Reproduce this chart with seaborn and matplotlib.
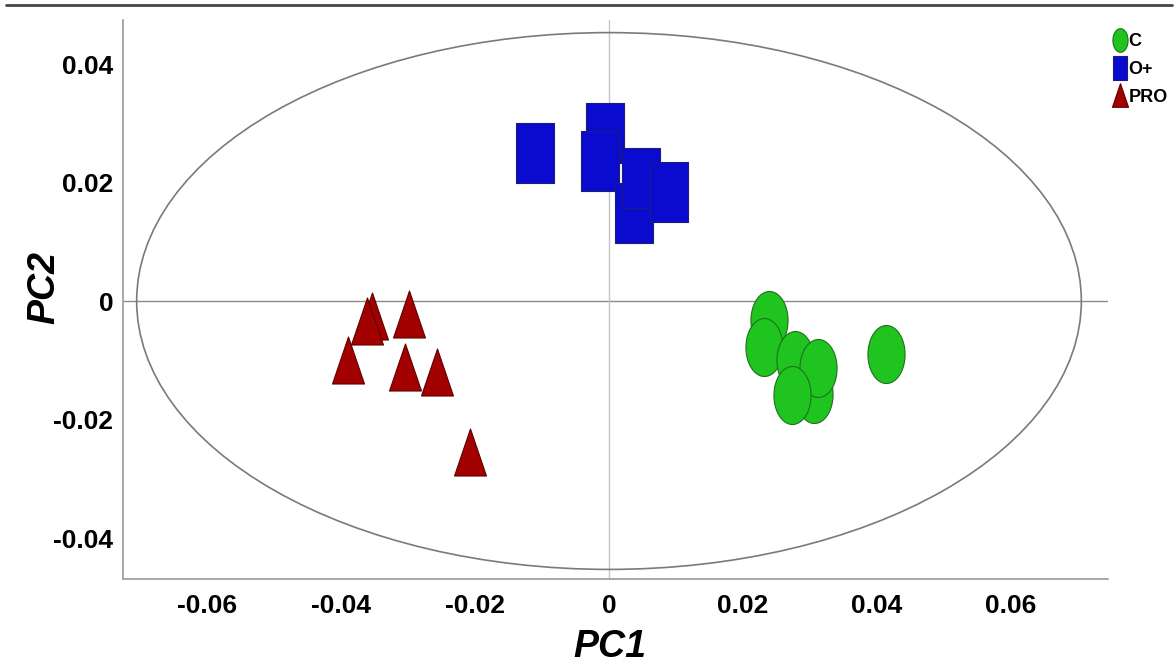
import numpy as np
import pandas as pd
import matplotlib
matplotlib.use("Agg")
import matplotlib.pyplot as plt
from matplotlib.path import Path
from matplotlib.patches import Ellipse
from matplotlib.lines import Line2D
import seaborn as sns

# scores
c_pc1 = [0.0239, 0.0231, 0.0278, 0.0306, 0.0312, 0.0273, 0.0413]
c_pc2 = [-0.0032, -0.0078, -0.0100, -0.0157, -0.0113, -0.0159, -0.0089]
o_pc1 = [-0.0110, -0.0006, -0.0013, 0.0037, 0.0048, 0.0090]
o_pc2 = [0.0250, 0.0284, 0.0236, 0.0149, 0.0208, 0.0184]
pro_pc1 = [-0.0354, -0.0361, -0.0299, -0.0390, -0.0304, -0.0257, -0.0207]
pro_pc2 = [-0.0025, -0.0034, -0.0022, -0.0100, -0.0111, -0.0120, -0.0255]
groups = ["C", "O+", "PRO"]
xticks = [-0.06, -0.04, -0.02, 0, 0.02, 0.04, 0.06]
yticks = [-0.04, -0.02, 0, 0.02, 0.04]
ellipse_ax = (0.0705, 0.0453)

sns.set_style("white")
plt.rcParams['font.family'] = ['Liberation Sans Narrow', 'Liberation Sans', 'DejaVu Sans']
plt.rcParams['text.color'] = 'black'
plt.rcParams['xtick.labelcolor'] = 'black'
plt.rcParams['ytick.labelcolor'] = 'black'

# marker shapes (taller than wide, like the original)
t = np.linspace(0, 2 * np.pi, 60)
oval = Path(np.column_stack([0.64 * np.cos(t), np.sin(t)]), closed=True)
rect = Path([(-0.31, -0.5), (0.31, -0.5), (0.31, 0.5), (-0.31, 0.5), (-0.31, -0.5)], closed=True)
tri = Path([(-0.34, -0.5), (0.34, -0.5), (0, 0.5), (-0.34, -0.5)], closed=True)

df = pd.concat([
    pd.DataFrame({"PC1": c_pc1, "PC2": c_pc2, "group": "C"}),
    pd.DataFrame({"PC1": o_pc1, "PC2": o_pc2, "group": "O+"}),
    pd.DataFrame({"PC1": pro_pc1, "PC2": pro_pc2, "group": "PRO"}),
])

style = {
    "C": dict(marker=oval, s=1744, color="#1fc41f", edgecolor="#1f6f1f"),
    "O+": dict(marker=rect, s=1866, color="#0b0bcf", edgecolor="#1c1c7a"),
    "PRO": dict(marker=tri, s=1145, color="#a30000", edgecolor="#5c0000"),
}

fig = plt.figure(figsize=(11.76, 6.7), dpi=100)
ax = fig.add_axes([123 / 1176, 1 - 579 / 670, (1108 - 123) / 1176, (579 - 20) / 670])

ax.axhline(0, color="#8a8a8a", lw=1.0, zorder=1)
ax.axvline(0, color="#c4c4c4", lw=1.0, zorder=1)
ax.add_patch(Ellipse((0, 0), 2 * ellipse_ax[0], 2 * ellipse_ax[1], fill=False,
                     edgecolor="#7a7a7a", lw=1.2, zorder=1))

for g in groups:
    sub = df[df["group"] == g]
    st = style[g]
    sns.scatterplot(data=sub, x="PC1", y="PC2", marker=st["marker"], s=st["s"],
                    color=st["color"], edgecolor=st["edgecolor"], linewidth=0.8,
                    ax=ax, zorder=3, legend=False)

ax.set_xlim(-0.07254, 0.07448)
ax.set_ylim(-0.04692, 0.04743)
ax.set_xticks(xticks)
ax.set_xticklabels(["0" if v == 0 else f"{v:.2f}" for v in xticks])
ax.set_yticks(yticks)
ax.set_yticklabels(["0" if v == 0 else f"{v:.2f}" for v in yticks])
ax.set_xticks(np.arange(-0.07, 0.071, 0.02), minor=True)
ax.set_yticks([-0.03, -0.01, 0.01, 0.03], minor=True)
ax.tick_params(axis="both", which="both", direction="out", length=3, width=1, color="#999999",
               labelsize=19, labelcolor="black")
ax.tick_params(axis="x", pad=8)
ax.tick_params(axis="y", pad=4)
for lab in ax.get_xticklabels() + ax.get_yticklabels():
    lab.set_fontweight("bold")

for side in ["top", "right"]:
    ax.spines[side].set_visible(False)
for side in ["left", "bottom"]:
    ax.spines[side].set_color("#9a9a9a")
    ax.spines[side].set_linewidth(1.2)

ax.set_xlabel("")
ax.set_ylabel("")
fig.text(610 / 1176, 1 - 647 / 670, "PC1", ha="center", va="center", fontsize=27, color="black",
         fontweight="bold", fontstyle="italic", family=['Liberation Sans', 'DejaVu Sans'])
fig.text(44 / 1176, 1 - 288 / 670, "PC2", ha="center", va="center", fontsize=27, rotation=90,
         color="black", fontweight="bold", fontstyle="italic", family=['Liberation Sans', 'DejaVu Sans'])

# legend outside top-right
handles = [Line2D([], [], linestyle="none", marker=style[g]["marker"], markersize=17,
                  markerfacecolor=style[g]["color"], markeredgecolor=style[g]["edgecolor"],
                  markeredgewidth=0.8) for g in groups]
leg = fig.legend(handles, groups, loc="upper left", bbox_to_anchor=(1104 / 1176, 1 - 24 / 670),
                 frameon=False, handlelength=0.8, handletextpad=0.05, labelspacing=0.6,
                 borderpad=0, prop={"weight": "bold", "size": 13})
for txt in leg.get_texts():
    txt.set_color("black")

# thin rule across the top of the figure
fig.add_artist(Line2D([6 / 1176, 1172 / 1176], [1 - 5 / 670, 1 - 5 / 670], color="#444444",
                      lw=2, transform=fig.transFigure))

fig.savefig("out.png", dpi=100)
